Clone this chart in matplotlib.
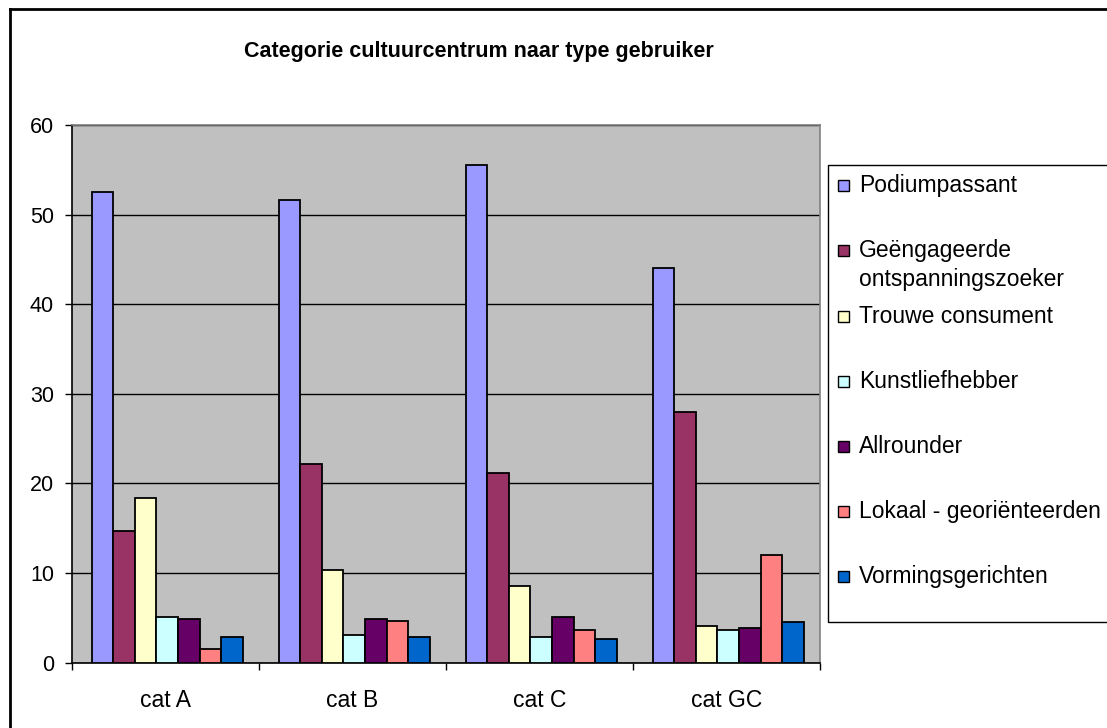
import numpy as np
import matplotlib.pyplot as plt
from matplotlib.patches import Rectangle
from matplotlib.lines import Line2D

plt.rcParams['font.family'] = ['Liberation Sans', 'DejaVu Sans']

categories = ['cat A', 'cat B', 'cat C', 'cat GC']
series = ['Podiumpassant', 'Geëngageerde\nontspanningszoeker', 'Trouwe consument',
          'Kunstliefhebber', 'Allrounder', 'Lokaal - georiënteerden', 'Vormingsgerichten']
values = [
    [52.5, 51.6, 55.5, 44.0],
    [14.7, 22.2, 21.2, 28.0],
    [18.4, 10.35, 8.6, 4.1],
    [5.05, 3.1, 2.9, 3.7],
    [4.9, 4.9, 5.1, 3.9],
    [1.55, 4.7, 3.7, 12.0],
    [2.9, 2.9, 2.7, 4.5],
]
colors = ['#9999FF', '#993366', '#FFFFCC', '#CCFFFF', '#660066', '#FF8080', '#0066CC']

W, H = 1107, 728
fig = plt.figure(figsize=(W / 100, H / 100), dpi=100)
ax = fig.add_axes([72 / W, 1 - 662.7 / H, (820 - 72) / W, (662.7 - 125) / H])
ax.set_facecolor('#C0C0C0')

x = np.arange(len(categories))
bw = 0.1155
n = len(series)
for i in range(n):
    off = (i - (n - 1) / 2) * bw + 0.009
    ax.bar(x + off, values[i], bw, color=colors[i], edgecolor='black',
           linewidth=1.3, zorder=3)

ax.set_xlim(-0.5, len(categories) - 0.5)
ax.set_ylim(0, 60)
ax.set_yticks(range(0, 61, 10))
ax.yaxis.grid(True, color='black', linewidth=1.0, zorder=1)
ax.set_axisbelow(True)
ax.tick_params(axis='y', length=5, width=1, pad=8, labelsize=15.5)

ax.set_xticks(x)
ax.set_xticklabels(categories)
ax.set_xticks(np.arange(-0.5, len(categories), 1.0), minor=True)
ax.tick_params(axis='x', which='major', length=0, pad=19, labelsize=16.5)
ax.tick_params(axis='x', which='minor', length=5, width=1)

for s in ['top', 'right']:
    ax.spines[s].set_color('#808080')
    ax.spines[s].set_linewidth(1.2)
for s in ['left', 'bottom']:
    ax.spines[s].set_color('black')
    ax.spines[s].set_linewidth(1.2)

fig.text(479 / W, 1 - 56.5 / H, 'Categorie cultuurcentrum naar type gebruiker',
         ha='center', va='baseline', fontsize=15.5, fontweight='bold')

# outer chart border (left and top visible)
fig.add_artist(Line2D([9.7 / W, 9.7 / W], [0, 1 - 9 / H], color='black', linewidth=2.0,
                      transform=fig.transFigure))
fig.add_artist(Line2D([9.7 / W, 1], [1 - 9 / H, 1 - 9 / H], color='black', linewidth=2.0,
                      transform=fig.transFigure))

# legend box
fig.add_artist(Rectangle((828 / W, 1 - 621.5 / H), (W + 10 - 828) / W, (621.5 - 165) / H,
                         transform=fig.transFigure, facecolor='white', edgecolor='black',
                         linewidth=1.0, clip_on=False))
b0, step = 192.3, 65.15
for i, (lab, c) in enumerate(zip(series, colors)):
    base = b0 + i * step
    fig.add_artist(Rectangle((838 / W, 1 - (base - 1) / H), 11 / W, 11 / H,
                             transform=fig.transFigure, facecolor=c, edgecolor='black',
                             linewidth=1.0))
    for j, line in enumerate(lab.split('\n')):
        fig.text(859 / W, 1 - (base + j * 28.4) / H, line, ha='left', va='baseline',
                 fontsize=16.5)

fig.savefig('out.png', dpi=100)
